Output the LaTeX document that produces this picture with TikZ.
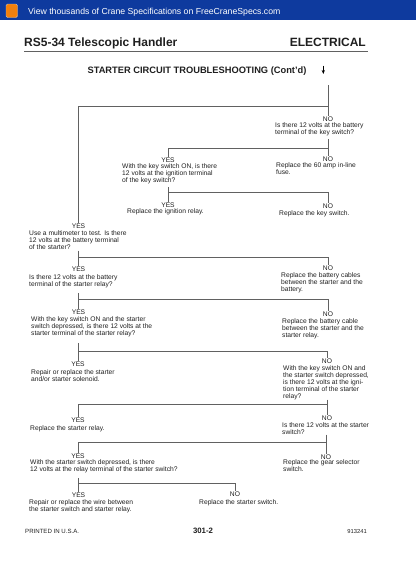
\documentclass[tikz,border=0pt]{standalone}
\usepackage{fontspec}
\setmainfont{Liberation Sans}
\usepackage{tikz}
\usetikzlibrary{positioning, arrows.meta}
\definecolor{bannerBlue}{RGB}{14,58,158}
\colorlet{lineGray}{black!62}
\colorlet{textGray}{black!88}
\tikzstyle{branchLine}=[draw=lineGray, line width=0.9pt]
\tikzstyle{answerLabel}=[inner sep=0pt, text=textGray, font=\fontsize{6.7}{6.9}\selectfont]
\tikzstyle{stepText}=[inner sep=0pt, anchor=north west, align=left, text=textGray,
  font=\fontsize{6.7}{6.9}\selectfont]
\tikzstyle{pageText}=[inner sep=0pt, text=textGray]

\begin{document}
\begin{tikzpicture}[x=1pt, y=-1pt]
  \useasboundingbox (0,0) rectangle (416,579);

  % banner
  \fill[bannerBlue] (0,0) rectangle (416,20);
  \filldraw[fill=orange!85!brown, draw=black!25, rounded corners=1.5pt] (6,4) rectangle (17.5,17.5);
  \fill[orange!70!brown] (8.8,7) rectangle (14.7,14.5);
  \node[anchor=base west, inner sep=0pt, text=white, font=\fontsize{8.7}{10}\selectfont]
    (banner) at (28,14.1) {View thousands of Crane Specifications on FreeCraneSpecs.com};

  % heading
  \node[pageText, anchor=base west, font=\fontsize{12}{14}\selectfont\bfseries]
    (model) at (24,46.3) {RS5-34 Telescopic Handler};
  \node[pageText, anchor=base east, font=\fontsize{12}{14}\selectfont\bfseries]
    (section) at (366,46.3) {ELECTRICAL};
  \draw[lineGray, line width=1pt] (model.west |- 0,51) -- (368,51);
  \node[pageText, anchor=base, font=\fontsize{9.3}{11}\selectfont\bfseries]
    (chartTitle) at (197,73.3) {STARTER CIRCUIT TROUBLESHOOTING (Cont'd)};
  \coordinate (arrowTop) at (323.3,65.5);
  \coordinate (arrowTip) at (323.3,74);
  \draw[-{Stealth[length=4pt,width=3.2pt]}, line width=0.9pt] (arrowTop) -- (arrowTip);

  % branch points
  \coordinate (start) at (328,85);
  \coordinate (h1) at (328,106);
  \coordinate (h2) at (328,148);
  \coordinate (h3) at (168,192);
  \coordinate (h4) at (78.5,257);
  \coordinate (h5) at (78.5,299);
  \coordinate (h6) at (78,351);
  \coordinate (h7) at (327,404);
  \coordinate (h8) at (326,442);
  \coordinate (h9) at (78.5,483);

  % answers
  \node[answerLabel] (noKeyBat) at (328,119) {NO};
  \node[answerLabel] (yesMulti) at (78.5,226) {YES};
  \node[answerLabel] (yesKeyIgn) at (168,160) {YES};
  \node[answerLabel] (noFuse) at (328,159) {NO};
  \node[answerLabel] (yesIgnRelay) at (168,205) {YES};
  \node[answerLabel] (noKeySwitch) at (328,206) {NO};
  \node[answerLabel] (yesRelayBat) at (78.5,269) {YES};
  \node[answerLabel] (noBatCables) at (328,268) {NO};
  \node[answerLabel] (yesRelayStart) at (78.5,312) {YES};
  \node[answerLabel] (noBatCable) at (328,314) {NO};
  \node[answerLabel] (yesSolenoid) at (78,364) {YES};
  \node[answerLabel] (noRelayIgn) at (327,361) {NO};
  \node[answerLabel] (yesStarterRelay) at (78,420) {YES};
  \node[answerLabel] (noSwitchVolts) at (327,418) {NO};
  \node[answerLabel] (yesSwitchRelay) at (78,456) {YES};
  \node[answerLabel] (noGearSel) at (326,457) {NO};
  \node[answerLabel] (yesWire) at (78.5,495) {YES};
  \node[answerLabel] (noStarterSwitch) at (235,494) {NO};

  % steps
  \node[stepText] (keyBat) at (275,122.4) {Is there 12 volts at the battery\\terminal of the key switch?};
  \node[stepText] (fuse) at (276,162.4) {Replace the 60 amp in-line\\fuse.};
  \node[stepText] (keyIgn) at (122,163.4) {With the key switch ON, is there\\12 volts at the ignition terminal\\of the key switch?};
  \node[stepText] (ignRelay) at (127,208.4) {Replace the ignition relay.};
  \node[stepText] (keySwitch) at (279,210.4) {Replace the key switch.};
  \node[stepText] (multimeter) at (29,230.4) {Use a multimeter to test. Is there\\12 volts at the battery terminal\\of the starter?};
  \node[stepText] (relayBat) at (29,274.4) {Is there 12 volts at the battery\\terminal of the starter relay?};
  \node[stepText] (batCables) at (281,272.4) {Replace the battery cables\\between the starter and the\\battery.};
  \node[stepText] (relayStart) at (31,316.4) {With the key switch ON and the starter\\switch depressed, is there 12 volts at the\\starter terminal of the starter relay?};
  \node[stepText] (batCable) at (282,318.4) {Replace the battery cable\\between the starter and the\\starter relay.};
  \node[stepText] (solenoid) at (31,369.4) {Repair or replace the starter\\and/or starter solenoid.};
  \node[stepText] (relayIgn) at (283,365.4) {With the key switch ON and\\the starter switch depressed,\\is there 12 volts at the igni-\\tion terminal of the starter\\relay?};
  \node[stepText] (starterRelay) at (30,425.4) {Replace the starter relay.};
  \node[stepText] (switchVolts) at (282,422.4) {Is there 12 volts at the starter\\switch?};
  \node[stepText] (switchRelay) at (30,459.4) {With the starter switch depressed, is there\\12 volts at the relay terminal of the starter switch?};
  \node[stepText] (gearSel) at (283,459.4) {Replace the gear selector\\switch.};
  \node[stepText] (wireRepair) at (29,499.4) {Repair or replace the wire between\\the starter switch and starter relay.};
  \node[stepText] (starterSwitch) at (199,499.4) {Replace the starter switch.};

  % connectors
  \draw[branchLine] (start) -- (h1);
  \draw[branchLine] (yesMulti.north) |- (h1) -| (noKeyBat.north);
  \draw[branchLine, shorten <=3pt] (keyBat.south -| h2) -- (h2);
  \draw[branchLine] (yesKeyIgn.north) |- (h2) -| (noFuse.north);
  \draw[branchLine, shorten <=3pt] (keyIgn.south -| h3) -- (h3);
  \draw[branchLine] (yesIgnRelay.north) |- (h3) -| (noKeySwitch.north);
  \draw[branchLine, shorten <=1pt] (multimeter.south -| h4) -- (h4);
  \draw[branchLine] (yesRelayBat.north) |- (h4) -| (noBatCables.north);
  \draw[branchLine, shorten <=5pt] (relayBat.south -| h5) -- (h5);
  \draw[branchLine] (yesRelayStart.north) |- (h5) -| (noBatCable.north);
  \draw[branchLine, shorten <=6pt] (relayStart.south -| h6) -- (h6);
  \draw[branchLine] (yesSolenoid.north) |- (h6) -| (noRelayIgn.north);
  \draw[branchLine] (relayIgn.south -| h7) -- (h7);
  \draw[branchLine] (yesStarterRelay.north) |- (h7) -| (noSwitchVolts.north);
  \draw[branchLine] (switchVolts.south -| h8) -- (h8);
  \draw[branchLine] (yesSwitchRelay.north) |- (h8) -| (noGearSel.north);
  \draw[branchLine, shorten <=5pt] (switchRelay.south -| h9) -- (h9);
  \draw[branchLine] (yesWire.north) |- (h9) -| (noStarterSwitch.north);

  % footer
  \node[pageText, anchor=base west, font=\fontsize{6.1}{7}\selectfont] (printed) at (25,533.2) {PRINTED IN U.S.A.};
  \node[pageText, anchor=base, font=\fontsize{7.8}{9}\selectfont\bfseries] (pageNo) at (203,533.8) {301-2};
  \node[pageText, anchor=base east, font=\fontsize{5.8}{7}\selectfont] (docNo) at (367,533.1) {913241};
\end{tikzpicture}
\end{document}
